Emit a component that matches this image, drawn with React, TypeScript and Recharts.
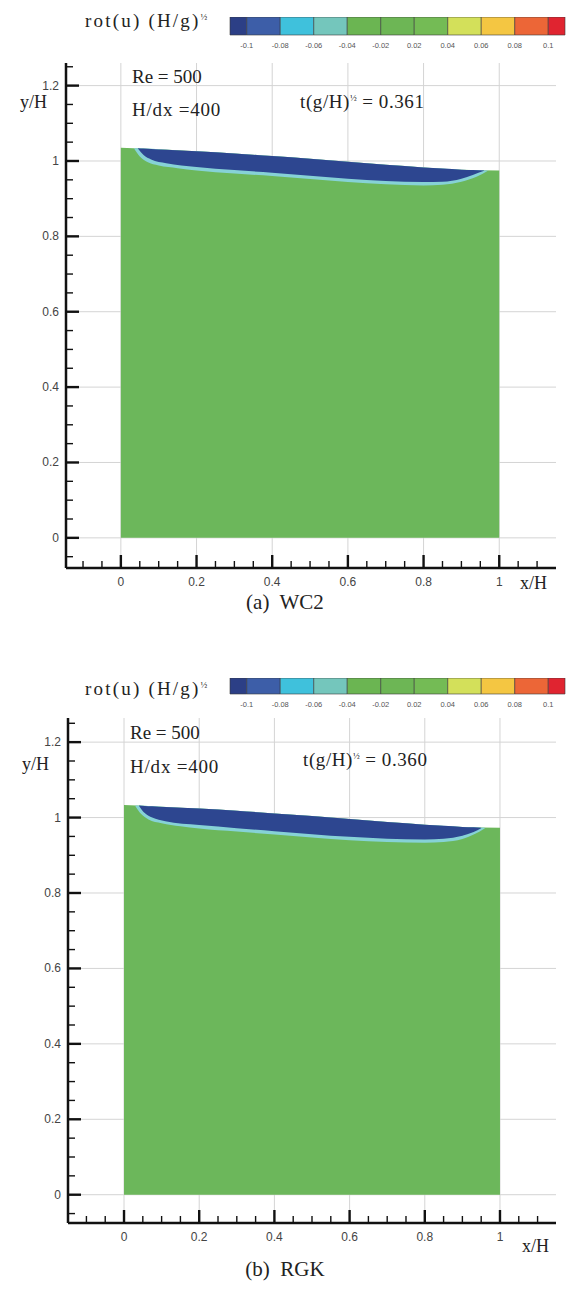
import React from 'react';
import { ComposedChart, Area, XAxis, YAxis, CartesianGrid, BarChart, Bar } from 'recharts';

// ---------- data ----------
const majorXTicks = [0, 0.2, 0.4, 0.6, 0.8, 1];
const majorYTicks = [0, 0.2, 0.4, 0.6, 0.8, 1, 1.2];
const allXTicks = [-0.1, -0.05, 0, 0.05, 0.1, 0.15, 0.2, 0.25, 0.3, 0.35, 0.4, 0.45, 0.5, 0.55, 0.6, 0.65, 0.7, 0.75, 0.8, 0.85, 0.9, 0.95, 1, 1.05, 1.1];
const allYTicks = [-0.05, 0, 0.05, 0.1, 0.15, 0.2, 0.25, 0.3, 0.35, 0.4, 0.45, 0.5, 0.55, 0.6, 0.65, 0.7, 0.75, 0.8, 0.85, 0.9, 0.95, 1, 1.05, 1.1, 1.15, 1.2, 1.25];

const colorbarLabels = ['-0.1', '-0.08', '-0.06', '-0.04', '-0.02', '0.02', '0.04', '0.06', '0.08', '0.1'];
const colorbarColors = ['#2c3f86', '#3d5ea8', '#3fc1dc', '#74c6bc', '#6bb552', '#6db655', '#74bb55', '#d3e05a', '#f4c642', '#ec6637', '#e02430'];
const colorbarWidths = [0.5, 1, 1, 1, 1, 1, 1, 1, 1, 1, 0.5];

// Panel (a) WC2
const surfaceXA = [0, 0.1, 0.2, 0.3, 0.4, 0.5, 0.6, 0.7, 0.8, 0.9, 1];
const surfaceA = [1.035, 1.031, 1.026, 1.02, 1.013, 1.006, 0.998, 0.99, 0.983, 0.977, 0.975];
const edgeXA = [0.035, 0.05, 0.07, 0.1, 0.15, 0.2, 0.3, 0.4, 0.5, 0.6, 0.7, 0.8, 0.85, 0.9, 0.94, 0.97];
const edgeTopA = [1.034, 1.034, 1.033, 1.031, 1.028, 1.026, 1.02, 1.013, 1.006, 0.998, 0.99, 0.983, 0.98, 0.977, 0.976, 0.975];
const edgeBottomA = [1.033, 1.012, 0.997, 0.988, 0.981, 0.975, 0.967, 0.96, 0.952, 0.944, 0.938, 0.935, 0.937, 0.945, 0.958, 0.974];
const layerXA = [0.045, 0.06, 0.08, 0.12, 0.2, 0.3, 0.4, 0.5, 0.6, 0.7, 0.8, 0.85, 0.9, 0.93, 0.96];
const layerTopA = [1.034, 1.033, 1.032, 1.03, 1.026, 1.02, 1.013, 1.006, 0.998, 0.99, 0.983, 0.98, 0.977, 0.976, 0.975];
const layerBottomA = [1.033, 1.016, 1.004, 0.994, 0.984, 0.976, 0.969, 0.961, 0.953, 0.947, 0.944, 0.945, 0.953, 0.963, 0.974];

// Panel (b) RGK
const surfaceXB = [0, 0.1, 0.2, 0.3, 0.4, 0.5, 0.6, 0.7, 0.8, 0.9, 1];
const surfaceB = [1.033, 1.029, 1.024, 1.018, 1.011, 1.004, 0.996, 0.988, 0.981, 0.975, 0.973];
const edgeXB = [0.03, 0.045, 0.065, 0.1, 0.15, 0.2, 0.3, 0.4, 0.5, 0.6, 0.7, 0.8, 0.85, 0.9, 0.93, 0.96];
const edgeTopB = [1.032, 1.032, 1.031, 1.029, 1.026, 1.024, 1.018, 1.011, 1.004, 0.996, 0.988, 0.981, 0.978, 0.975, 0.974, 0.973];
const edgeBottomB = [1.031, 1.01, 0.995, 0.985, 0.977, 0.971, 0.963, 0.955, 0.947, 0.94, 0.935, 0.933, 0.935, 0.943, 0.955, 0.972];
const layerXB = [0.04, 0.055, 0.075, 0.11, 0.2, 0.3, 0.4, 0.5, 0.6, 0.7, 0.8, 0.85, 0.9, 0.93, 0.95];
const layerTopB = [1.032, 1.031, 1.03, 1.028, 1.024, 1.018, 1.011, 1.004, 0.996, 0.988, 0.981, 0.978, 0.975, 0.974, 0.973];
const layerBottomB = [1.031, 1.012, 1.0, 0.99, 0.98, 0.972, 0.964, 0.956, 0.949, 0.944, 0.942, 0.944, 0.952, 0.962, 0.972];

// ---------- helpers ----------
const SERIF = '"Liberation Serif", "DejaVu Serif", serif';
const SANS = '"Liberation Sans", Arial, sans-serif';
const isMajor = (v: number, list: number[]) => list.some((t) => Math.abs(t - v) < 1e-6);

const XTick = (props: any) => {
  const { x, y, payload } = props;
  const v = payload.value;
  const major = isMajor(v, majorXTicks);
  return (
    <g>
      <line x1={x} x2={x} y1={y + (major ? 1 : 0)} y2={y - (major ? 13 : 7)} stroke="#111" strokeWidth={major ? 2.4 : 1.4} />
      {major && (
        <text x={x} y={y + 18} textAnchor="middle" fontSize={12} fontFamily={SANS} fill="#444">
          {String(v)}
        </text>
      )}
    </g>
  );
};

const YTick = (props: any) => {
  const { x, y, payload } = props;
  const v = payload.value;
  const major = isMajor(v, majorYTicks);
  return (
    <g>
      <line x1={x - (major ? 1 : 0)} x2={x + (major ? 13 : 7)} y1={y} y2={y} stroke="#111" strokeWidth={major ? 2.4 : 1.4} />
      {major && (
        <text x={x - 7} y={y + 4} textAnchor="end" fontSize={12} fontFamily={SANS} fill="#444">
          {String(v)}
        </text>
      )}
    </g>
  );
};

const build = (xs: number[], lo: number[] | null, hi: number[]) =>
  xs.map((x, i) => ({ x, lo: lo ? lo[i] : 0, hi: hi[i] }));

type PanelProps = {
  top: number;
  plotTop: number;
  xAxisH: number;
  yAxisW: number;
  domX: [number, number];
  domY: [number, number];
  surfX: number[];
  surf: number[];
  edgeX: number[];
  edgeLo: number[];
  edgeHi: number[];
  layX: number[];
  layLo: number[];
  layHi: number[];
};

const Panel = (p: PanelProps) => {
  const surfData = build(p.surfX, null, p.surf);
  const edgeData = build(p.edgeX, p.edgeLo, p.edgeHi);
  const layData = build(p.layX, p.layLo, p.layHi);
  const H = p.plotTop + 505 + p.xAxisH;
  return (
    <div style={{ position: 'absolute', left: 0, top: p.top }}>
      <ComposedChart width={568} height={H} margin={{ top: p.plotTop, right: 12, bottom: 0, left: 0 }}>
        <CartesianGrid
          stroke="#d4d4d4"
          strokeWidth={1}
          verticalValues={majorXTicks}
          horizontalValues={majorYTicks}
        />
        <XAxis
          type="number"
          dataKey="x"
          domain={p.domX}
          allowDataOverflow
          ticks={allXTicks}
          interval={0}
          tickSize={0}
          tickMargin={0}
          tickLine={false}
          height={p.xAxisH}
          axisLine={{ stroke: '#111', strokeWidth: 2.5 }}
          tick={<XTick />}
        />
        <YAxis
          type="number"
          domain={p.domY}
          allowDataOverflow
          ticks={allYTicks}
          interval={0}
          tickSize={0}
          tickMargin={0}
          tickLine={false}
          width={p.yAxisW}
          axisLine={{ stroke: '#111', strokeWidth: 2.5 }}
          tick={<YTick />}
        />
        <Area data={surfData} dataKey="hi" baseValue={0} type="monotone" fill="#6cb75b" fillOpacity={1} stroke="none" isAnimationActive={false} />
        <Area data={edgeData} dataKey={(d: any) => [d.lo, d.hi]} type="monotone" fill="#86d2d6" fillOpacity={1} stroke="none" isAnimationActive={false} />
        <Area data={layData} dataKey={(d: any) => [d.lo, d.hi]} type="monotone" fill="#2d4690" fillOpacity={1} stroke="none" isAnimationActive={false} />
      </ComposedChart>
    </div>
  );
};

const colorbarRow = [colorbarWidths.reduce((acc: any, w, i) => ({ ...acc, ['s' + i]: w }), { name: 'bar' })];
const colorbarTickPos = colorbarLabels.map((_, i) => i + 0.5);

const Colorbar = ({ left, top, barH }: { left: number; top: number; barH: number }) => (
  <div style={{ position: 'absolute', left, top }}>
    <BarChart width={340} height={barH + 16} data={colorbarRow} layout="vertical" barCategoryGap={0} margin={{ top: 0, right: 3, bottom: 0, left: 2 }}>
      <XAxis
        type="number"
        domain={[0, 10]}
        ticks={colorbarTickPos}
        interval={0}
        tickFormatter={(v: number) => colorbarLabels[Math.round(v - 0.5)]}
        axisLine={false}
        tickLine={false}
        height={16}
        tickMargin={2}
        tick={{ fontSize: 7.5, fill: '#555', fontFamily: SANS }}
      />
      <YAxis type="category" dataKey="name" hide />
      {colorbarColors.map((c, i) => (
        <Bar key={i} dataKey={'s' + i} stackId="cb" fill={c} stroke="#3a3a3a" strokeWidth={0.6} isAnimationActive={false} />
      ))}
    </BarChart>
  </div>
);

const T = ({ left, top, size = 19, spacing = 0, children, center }: any) => (
  <div
    style={{
      position: 'absolute',
      left,
      top,
      fontFamily: SERIF,
      fontSize: size,
      letterSpacing: spacing,
      color: '#222',
      whiteSpace: 'nowrap',
      lineHeight: 1,
      transform: center ? 'translateX(-50%)' : undefined,
    }}
  >
    {children}
  </div>
);

const Half = () => <sup style={{ fontSize: 9, verticalAlign: 'super', letterSpacing: 0 }}>½</sup>;

export default function App() {
  return (
    <div style={{ position: 'absolute', left: 0, top: 0, width: 568, height: 1308, background: '#fff', overflow: 'hidden' }}>
      <Panel
        top={0}
        plotTop={63}
        xAxisH={32}
        yAxisW={66}
        domX={[-0.145, 1.15]}
        domY={[-0.08, 1.26]}
        surfX={surfaceXA}
        surf={surfaceA}
        edgeX={edgeXA}
        edgeLo={edgeBottomA}
        edgeHi={edgeTopA}
        layX={layerXA}
        layLo={layerBottomA}
        layHi={layerTopA}
      />
      <Colorbar left={228} top={17} barH={18} />
      <T left={85} top={11} spacing={2.2}>rot(u) (H/g)<Half /></T>
      <T left={132} top={67}>Re = 500</T>
      <T left={132} top={100} spacing={0.8}>H/dx =400</T>
      <T left={300} top={92} spacing={0.6}>t(g/H)<Half /> = 0.361</T>
      <T left={20} top={93} size={18}>y/H</T>
      <T left={520} top={574} size={18}>x/H</T>
      <T left={285} top={592} size={21} center>(a)&nbsp; WC2</T>

      <Panel
        top={650}
        plotTop={68}
        xAxisH={30}
        yAxisW={68}
        domX={[-0.149, 1.149]}
        domY={[-0.075, 1.264]}
        surfX={surfaceXB}
        surf={surfaceB}
        edgeX={edgeXB}
        edgeLo={edgeBottomB}
        edgeHi={edgeTopB}
        layX={layerXB}
        layLo={layerBottomB}
        layHi={layerTopB}
      />
      <Colorbar left={228} top={678} barH={16} />
      <T left={85} top={679} spacing={2.2}>rot(u) (H/g)<Half /></T>
      <T left={130} top={723}>Re = 500</T>
      <T left={130} top={757} spacing={0.8}>H/dx =400</T>
      <T left={303} top={750} spacing={0.6}>t(g/H)<Half /> = 0.360</T>
      <T left={22} top={755} size={18}>y/H</T>
      <T left={522} top={1237} size={18}>x/H</T>
      <T left={285} top={1259} size={21} center>(b)&nbsp; RGK</T>
    </div>
  );
}
